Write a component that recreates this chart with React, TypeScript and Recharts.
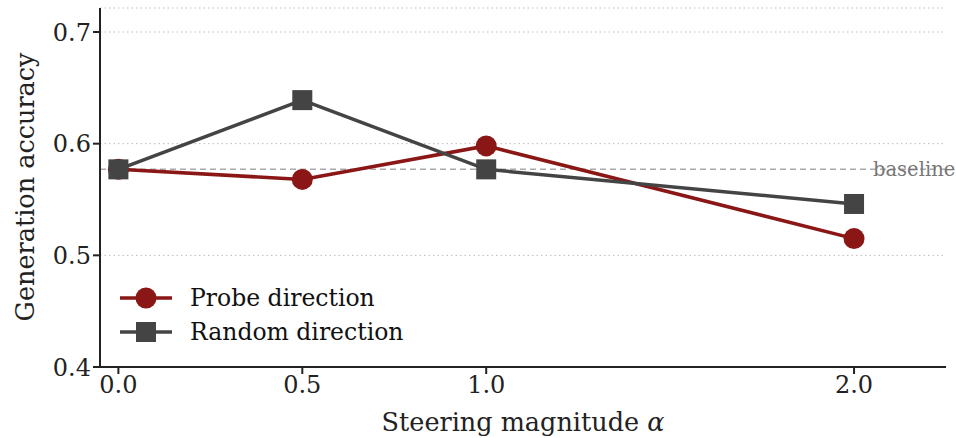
import * as React from 'react';
import {
  LineChart,
  Line,
  XAxis,
  YAxis,
  CartesianGrid,
  ReferenceLine
} from 'recharts';

// steering magnitudes (alpha)
const alphas = [0.0, 0.5, 1.0, 2.0];
const probeAcc = [0.577, 0.568, 0.598, 0.515];
const randomAcc = [0.577, 0.639, 0.577, 0.546];
const baselineAcc = 0.577;

const xTicks = [0, 0.5, 1.0, 2.0];
const yTicks = [0.4, 0.5, 0.6, 0.7];

const RED = '#8b1616';
const GRAY = '#444444';
const FONT = '"DejaVu Serif", serif';

const data = alphas.map((a, i) => ({ alpha: a, probe: probeAcc[i], random: randomAcc[i] }));

const SquareDot = (props: any) => {
  const { cx, cy } = props;
  if (cx == null || cy == null) return null;
  return <rect x={cx - 10} y={cy - 10} width={20} height={20} fill={GRAY} />;
};

const legendItems = [
  { name: 'Probe direction', color: RED, shape: 'circle' },
  { name: 'Random direction', color: GRAY, shape: 'square' }
];

function LegendBox() {
  return (
    <svg width={320} height={72} style={{ position: 'absolute', left: 118, top: 284 }}>
      {legendItems.map((it, i) => {
        const cy = 14 + i * 34;
        return (
          <g key={it.name}>
            <line x1={2} x2={54} y1={cy} y2={cy} stroke={it.color} strokeWidth={3.5} />
            {it.shape === 'circle' ? (
              <circle cx={28} cy={cy} r={10.5} fill={it.color} />
            ) : (
              <rect x={18} y={cy - 10} width={20} height={20} fill={it.color} />
            )}
            <text x={72} y={cy} dominantBaseline="central" fontFamily={FONT} fontSize={23.5} fill="#111">
              {it.name}
            </text>
          </g>
        );
      })}
    </svg>
  );
}

export default function App() {
  return (
    <div style={{ position: 'absolute', left: 0, top: 0, width: 956, height: 438, background: '#fff' }}>
      <LineChart
        width={956}
        height={438}
        data={data}
        margin={{ top: 8, right: 10, left: 0, bottom: 0 }}
      >
        <CartesianGrid vertical={false} stroke="#bbbbbb" strokeDasharray="1.5 3" />
        <XAxis
          dataKey="alpha"
          type="number"
          domain={[-0.05, 2.25]}
          ticks={xTicks}
          tickFormatter={(v: number) => v.toFixed(1)}
          height={71}
          stroke="#222"
          strokeWidth={2}
          tickSize={7}
          tick={{ fill: '#222', fontFamily: FONT, fontSize: 24 }}
          label={{
            content: (p: any) => {
              const vb = p.viewBox;
              return (
                <text
                  x={vb.x + vb.width / 2}
                  y={vb.y + 55}
                  textAnchor="middle"
                  dominantBaseline="central"
                  fontFamily={FONT}
                  fontSize={25.5}
                  fill="#222"
                >
                  Steering magnitude <tspan fontStyle="italic">α</tspan>
                </text>
              );
            }
          }}
        />
        <YAxis
          type="number"
          domain={[0.4, 0.7215]}
          ticks={yTicks}
          tickFormatter={(v: number) => v.toFixed(1)}
          allowDataOverflow
          width={100}
          stroke="#222"
          strokeWidth={2}
          tickSize={7}
          tick={{ fill: '#222', fontFamily: FONT, fontSize: 24 }}
          label={{
            content: () => {
              const cx = 25;
              const cy = 187;
              return (
                <text
                  x={cx}
                  y={cy}
                  transform={`rotate(-90, ${cx}, ${cy})`}
                  textAnchor="middle"
                  dominantBaseline="central"
                  fontFamily={FONT}
                  fontSize={25.5}
                  fill="#222"
                >
                  Generation accuracy
                </text>
              );
            }
          }}
        />
        <ReferenceLine
          y={baselineAcc}
          stroke="#aaaaaa"
          strokeWidth={1.5}
          strokeDasharray="6 4"
          label={{
            content: (p: any) => {
              const vb = p.viewBox;
              return (
                <text
                  x={vb.x + vb.width - 73}
                  y={vb.y}
                  dominantBaseline="central"
                  fontFamily={FONT}
                  fontSize={19.5}
                  fill="#777"
                >
                  baseline
                </text>
              );
            }
          }}
        />
        <Line
          dataKey="probe"
          name="Probe direction"
          stroke={RED}
          strokeWidth={3.5}
          dot={{ r: 10.5, fill: RED, stroke: RED, strokeWidth: 0 }}
          activeDot={false}
          isAnimationActive={false}
        />
        <Line
          dataKey="random"
          name="Random direction"
          stroke={GRAY}
          strokeWidth={3.5}
          dot={<SquareDot />}
          activeDot={false}
          isAnimationActive={false}
        />
      </LineChart>
      <LegendBox />
    </div>
  );
}
